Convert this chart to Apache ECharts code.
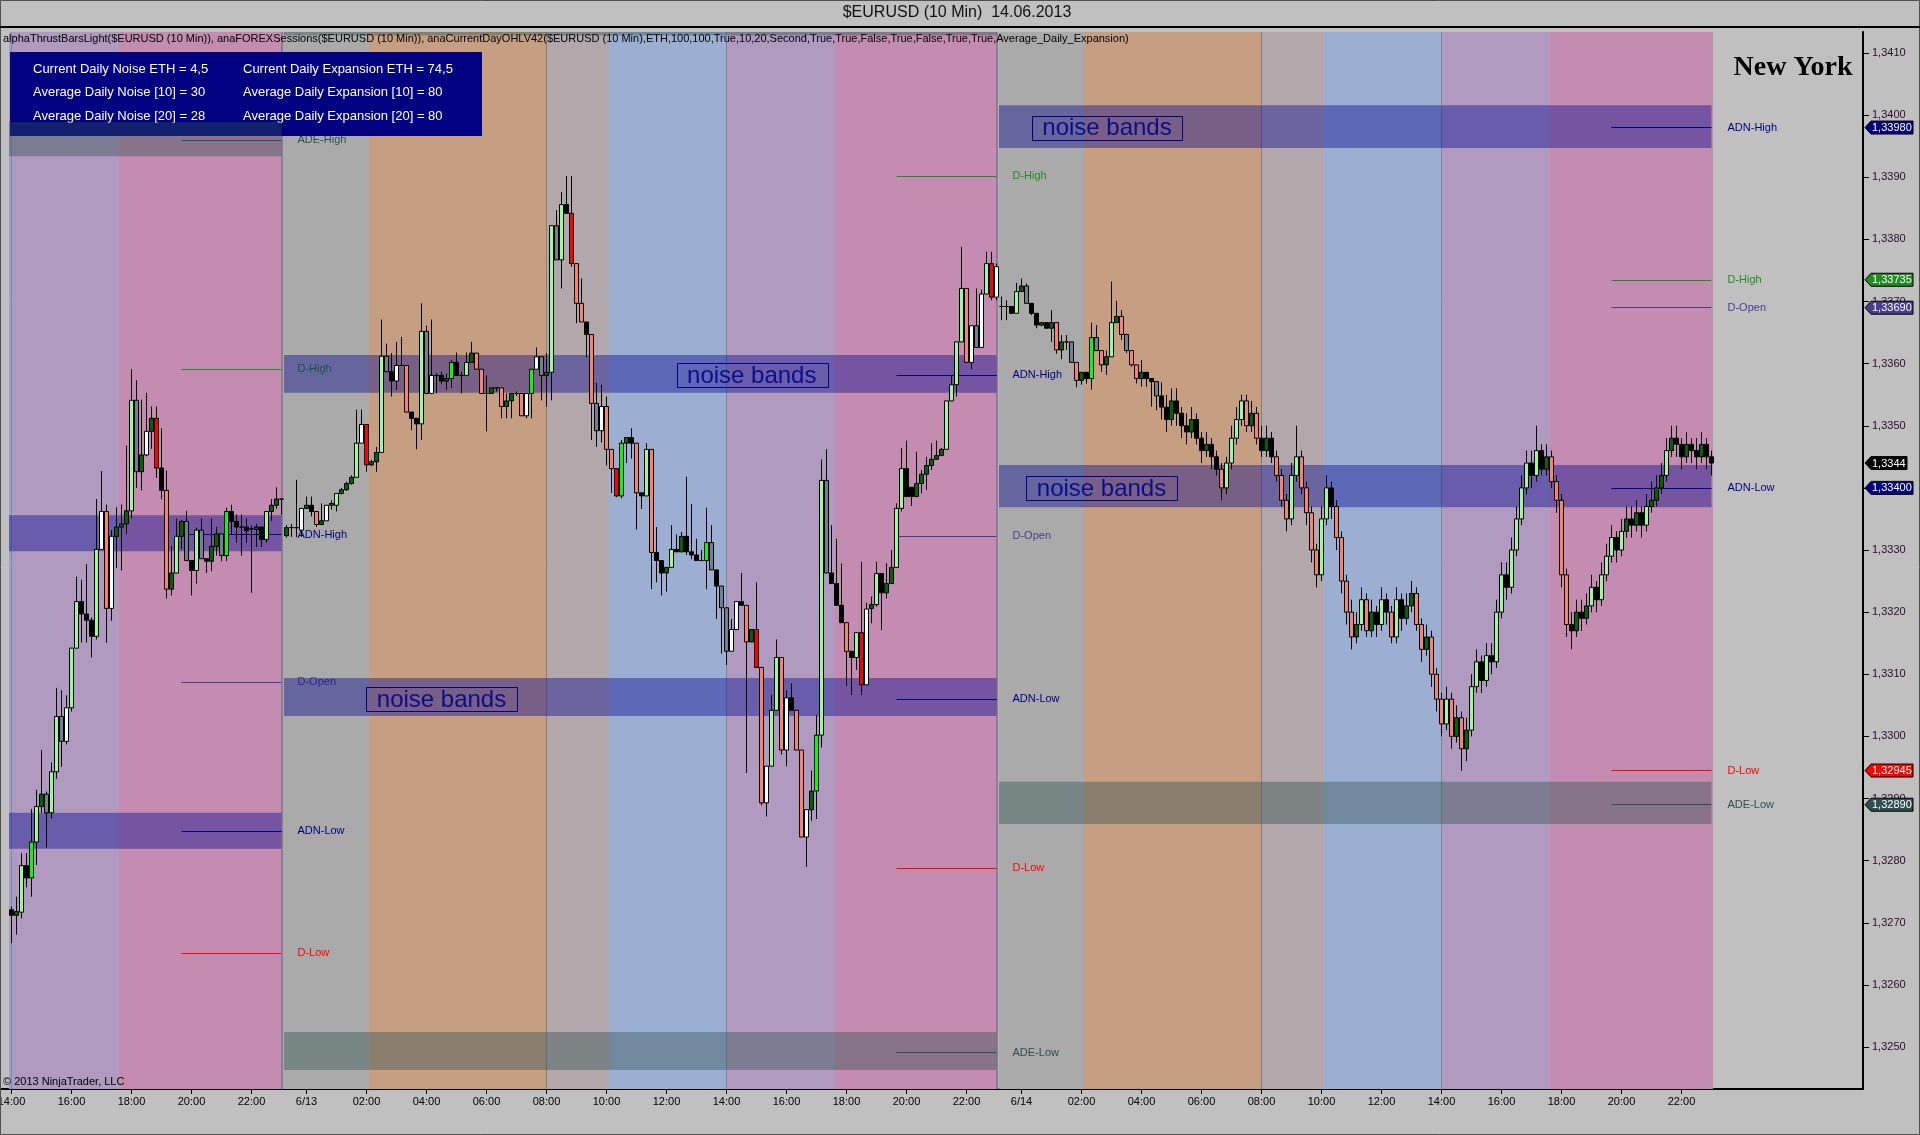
<!DOCTYPE html>
<html><head><meta charset="utf-8">
<script src="https://cdn.jsdelivr.net/npm/echarts@6/dist/echarts.min.js"></script>
<style>html,body{margin:0;padding:0;background:#C0C0C0;overflow:hidden}#c{width:1920px;height:1135px}</style>
</head><body><div id="c"></div>
<script>
// ---------- DATA ----------
// 10-minute bars, index 0 = 12.06 14:00. Row: [open, high, low, close, thrustClass]
const day1Bars = [
[1.32721,1.32726,1.32667,1.32712,'bk'],[1.32712,1.32742,1.32681,1.32718,'dg'],[1.32717,1.32812,1.32707,1.32792,'pg'],[1.32792,1.32812,1.32757,1.32772,'bk'],
[1.32772,1.32883,1.32742,1.32830,'lm'],[1.32830,1.32914,1.32793,1.32887,'pg'],[1.32887,1.32978,1.32877,1.32907,'dg'],[1.32907,1.32911,1.32821,1.32877,'sl'],
[1.32877,1.32958,1.32868,1.32943,'pg'],[1.32943,1.33078,1.32932,1.33032,'pg'],[1.33032,1.33074,1.32951,1.32992,'sl'],[1.32992,1.33066,1.32987,1.33046,'az'],
[1.33046,1.33142,1.33040,1.33142,'pg'],[1.33142,1.33257,1.33142,1.33217,'pg'],[1.33217,1.33252,1.33151,1.33197,'bk'],[1.33197,1.33277,1.33151,1.33187,'bk'],
[1.33187,1.33191,1.33127,1.33161,'bk'],[1.33161,1.33382,1.33156,1.33301,'pg'],[1.33301,1.33427,1.33301,1.33362,'az'],[1.33362,1.33373,1.33151,1.33206,'sa'],
[1.33206,1.33332,1.33186,1.33322,'az'],[1.33322,1.33369,1.33271,1.33337,'dg'],[1.33337,1.33373,1.33267,1.33342,'dg'],[1.33342,1.33468,1.33326,1.33363,'dg'],
[1.33363,1.33591,1.33351,1.33541,'pg'],[1.33541,1.33573,1.33400,1.33426,'sl'],[1.33426,1.33542,1.33396,1.33453,'dg'],[1.33453,1.33553,1.33451,1.33491,'az'],
[1.33491,1.33531,1.33463,1.33512,'dg'],[1.33512,1.33531,1.33416,1.33432,'rd'],[1.33432,1.33496,1.33382,1.33396,'bk'],[1.33396,1.33428,1.33222,1.33237,'sa'],
[1.33237,1.33306,1.33227,1.33263,'dg'],[1.33263,1.33351,1.33263,1.33322,'pg'],[1.33322,1.33348,1.33302,1.33346,'dg'],[1.33346,1.33363,1.33283,1.33283,'sl'],
[1.33283,1.33283,1.33227,1.33267,'bk'],[1.33267,1.33336,1.33246,1.33332,'pg'],[1.33332,1.33351,1.33286,1.33286,'sl'],[1.33286,1.33286,1.33263,1.33282,'bk'],
[1.33282,1.33351,1.33266,1.33306,'dg'],[1.33306,1.33337,1.33291,1.33326,'dg'],[1.33326,1.33326,1.33282,1.33291,'sl'],[1.33291,1.33368,1.33282,1.33362,'lm'],
[1.33362,1.33373,1.33326,1.33346,'bk'],[1.33346,1.33357,1.33312,1.33337,'bk'],[1.33337,1.33357,1.33291,1.33337,'bk'],[1.33337,1.33351,1.33312,1.33331,'bk'],
[1.33334,1.33339,1.33231,1.33334,'bk'],[1.33333,1.33342,1.33305,1.33337,'dg'],[1.33337,1.33337,1.33305,1.33317,'bk'],[1.33317,1.33362,1.33312,1.33362,'pg'],
[1.33362,1.33382,1.33347,1.33372,'dg'],[1.33372,1.33401,1.33366,1.33382,'dg'],[1.33382,1.33382,1.33357,1.33382,'bk']
];
const day2Bars = [
[1.33323,1.33340,1.33320,1.33336,'dg'],[1.33336,1.33342,1.33321,1.33336,'bk'],[1.33336,1.33413,1.33321,1.33336,'bk'],[1.33332,1.33367,1.33321,1.33367,'az'],
[1.33367,1.33386,1.33367,1.33372,'dg'],[1.33372,1.33386,1.33354,1.33362,'bk'],[1.33362,1.33362,1.33337,1.33341,'sa'],[1.33341,1.33375,1.33340,1.33347,'dg'],
[1.33347,1.33372,1.33347,1.33372,'az'],[1.33372,1.33380,1.33365,1.33375,'dg'],[1.33372,1.33391,1.33362,1.33391,'pg'],[1.33391,1.33400,1.33389,1.33397,'dg'],
[1.33397,1.33410,1.33395,1.33407,'dg'],[1.33407,1.33420,1.33405,1.33417,'dg'],[1.33417,1.33526,1.33417,1.33472,'pg'],[1.33472,1.33526,1.33472,1.33502,'az'],
[1.33502,1.33502,1.33426,1.33437,'rd'],[1.33437,1.33445,1.33435,1.33442,'dg'],[1.33442,1.33466,1.33426,1.33457,'dg'],[1.33457,1.33671,1.33457,1.33612,'pg'],
[1.33612,1.33632,1.33587,1.33587,'sl'],[1.33587,1.33617,1.33547,1.33572,'bk'],[1.33572,1.33635,1.33558,1.33597,'az'],[1.33597,1.33643,1.33597,1.33597,'bk'],
[1.33597,1.33597,1.33522,1.33522,'sa'],[1.33522,1.33522,1.33493,1.33512,'bk'],[1.33512,1.33512,1.33462,1.33503,'bk'],[1.33503,1.33697,1.33477,1.33652,'pg'],
[1.33652,1.33661,1.33552,1.33552,'sl'],[1.33552,1.33671,1.33552,1.33581,'az'],[1.33581,1.33585,1.33552,1.33581,'bk'],[1.33581,1.33587,1.33567,1.33572,'bk'],
[1.33572,1.33584,1.33558,1.33576,'dg'],[1.33576,1.33606,1.33561,1.33602,'lm'],[1.33602,1.33618,1.33581,1.33581,'bk'],[1.33581,1.33587,1.33552,1.33581,'bk'],
[1.33581,1.33618,1.33581,1.33602,'pg'],[1.33602,1.33635,1.33602,1.33617,'dg'],[1.33617,1.33617,1.33591,1.33591,'sa'],[1.33591,1.33591,1.33552,1.33552,'sa'],
[1.33552,1.33581,1.33491,1.33552,'bk'],[1.33552,1.33561,1.33552,1.33561,'dg'],[1.33561,1.33561,1.33555,1.33561,'bk'],[1.33561,1.33561,1.33512,1.33531,'sa'],
[1.33531,1.33552,1.33512,1.33540,'dg'],[1.33540,1.33552,1.33512,1.33552,'dg'],[1.33552,1.33555,1.33548,1.33552,'bk'],[1.33552,1.33552,1.33516,1.33516,'sa'],
[1.33516,1.33552,1.33512,1.33552,'az'],[1.33552,1.33591,1.33512,1.33591,'lm'],[1.33591,1.33626,1.33591,1.33611,'az'],[1.33611,1.33611,1.33541,1.33581,'sl'],
[1.33581,1.33617,1.33531,1.33586,'dg'],[1.33586,1.33822,1.33541,1.33822,'pg'],[1.33822,1.33847,1.33767,1.33767,'sl'],[1.33767,1.33876,1.33721,1.33856,'pg'],
[1.33856,1.33902,1.33842,1.33842,'bk'],[1.33842,1.33902,1.33756,1.33761,'rd'],[1.33761,1.33761,1.33665,1.33697,'sa'],[1.33697,1.33737,1.33667,1.33667,'sa'],
[1.33667,1.33667,1.33610,1.33647,'bk'],[1.33647,1.33647,1.33477,1.33536,'sa'],[1.33536,1.33569,1.33466,1.33492,'sl'],[1.33492,1.33566,1.33473,1.33531,'az'],
[1.33531,1.33547,1.33436,1.33462,'sa'],[1.33462,1.33462,1.33392,1.33431,'sa'],[1.33431,1.33431,1.33385,1.33387,'rd'],[1.33387,1.33477,1.33383,1.33472,'lm'],
[1.33472,1.33481,1.33440,1.33481,'dg'],[1.33481,1.33496,1.33447,1.33472,'bk'],[1.33472,1.33472,1.33333,1.33392,'sa'],[1.33392,1.33392,1.33366,1.33387,'bk'],
[1.33387,1.33472,1.33387,1.33462,'pg'],[1.33462,1.33462,1.33237,1.33296,'sa'],[1.33296,1.33337,1.33248,1.33283,'bk'],[1.33283,1.33283,1.33227,1.33263,'bk'],
[1.33263,1.33272,1.33233,1.33272,'dg'],[1.33272,1.33340,1.33272,1.33301,'pg'],[1.33301,1.33325,1.33297,1.33297,'bk'],[1.33297,1.33329,1.33297,1.33322,'dg'],
[1.33322,1.33418,1.33292,1.33297,'bk'],[1.33297,1.33374,1.33285,1.33292,'bk'],[1.33292,1.33318,1.33283,1.33283,'bk'],[1.33283,1.33300,1.33283,1.33283,'bk'],
[1.33283,1.33368,1.33237,1.33312,'lm'],[1.33312,1.33340,1.33268,1.33268,'sl'],[1.33268,1.33268,1.33189,1.33242,'bk'],[1.33242,1.33242,1.33133,1.33207,'sl'],
[1.33207,1.33207,1.33115,1.33137,'sl'],[1.33137,1.33189,1.33137,1.33172,'az'],[1.33172,1.33217,1.33172,1.33217,'az'],[1.33217,1.33263,1.33211,1.33211,'bk'],
[1.33211,1.33211,1.32941,1.33152,'sa'],[1.33152,1.33172,1.33152,1.33172,'dg'],[1.33172,1.33248,1.33111,1.33111,'rd'],[1.33111,1.33111,1.32889,1.32893,'sa'],
[1.32893,1.32952,1.32871,1.32952,'az'],[1.32952,1.33067,1.32952,1.33042,'pg'],[1.33042,1.33156,1.33042,1.33127,'pg'],[1.33127,1.33127,1.32971,1.32978,'sa'],
[1.32978,1.33074,1.32952,1.33062,'az'],[1.33062,1.33085,1.33042,1.33042,'bk'],[1.33042,1.33042,1.32978,1.32978,'sa'],[1.32978,1.32978,1.32838,1.32838,'sa'],
[1.32838,1.32882,1.32790,1.32882,'az'],[1.32882,1.32945,1.32864,1.32912,'dg'],[1.32912,1.33034,1.32867,1.33002,'lm'],[1.33002,1.33446,1.32982,1.33412,'pg'],
[1.33412,1.33462,1.33263,1.33263,'sl'],[1.33263,1.33340,1.33246,1.33246,'bk'],[1.33246,1.33318,1.33211,1.33211,'bk'],[1.33211,1.33278,1.33183,1.33183,'bk'],
[1.33183,1.33183,1.33081,1.33137,'sa'],[1.33137,1.33137,1.33067,1.33127,'bk'],[1.33127,1.33167,1.33107,1.33167,'pg'],[1.33167,1.33281,1.33067,1.33083,'rd'],
[1.33083,1.33215,1.33083,1.33205,'az'],[1.33206,1.33225,1.33182,1.33212,'dg'],[1.33212,1.33281,1.33209,1.33262,'pg'],[1.33262,1.33262,1.33171,1.33231,'bk'],
[1.33231,1.33279,1.33222,1.33246,'dg'],[1.33246,1.33300,1.33246,1.33272,'dg'],[1.33272,1.33375,1.33272,1.33367,'pg'],[1.33367,1.33464,1.33362,1.33431,'pg'],
[1.33431,1.33476,1.33386,1.33386,'bk'],[1.33401,1.33401,1.33371,1.33386,'bk'],[1.33386,1.33458,1.33386,1.33407,'dg'],[1.33407,1.33429,1.33391,1.33422,'dg'],
[1.33422,1.33450,1.33397,1.33436,'dg'],[1.33436,1.33472,1.33429,1.33446,'dg'],[1.33446,1.33476,1.33445,1.33452,'dg'],[1.33452,1.33464,1.33452,1.33462,'dg'],
[1.33462,1.33540,1.33462,1.33540,'pg'],[1.33540,1.33581,1.33540,1.33566,'pg'],[1.33566,1.33635,1.33547,1.33635,'pg'],[1.33635,1.33788,1.33635,1.33721,'pg'],
[1.33721,1.33721,1.33602,1.33602,'sa'],[1.33602,1.33661,1.33591,1.33661,'az'],[1.33661,1.33721,1.33626,1.33626,'sl'],[1.33626,1.33719,1.33626,1.33712,'az'],
[1.33712,1.33780,1.33712,1.33761,'pg'],[1.33761,1.33780,1.33702,1.33707,'rd'],[1.33707,1.33761,1.33702,1.33756,'az']
];
const day3Bars = [
[1.33692,1.33708,1.33670,1.33692,'bk'],[1.33692,1.33702,1.33670,1.33692,'bk'],[1.33692,1.33692,1.33681,1.33681,'bk'],[1.33681,1.33730,1.33681,1.33716,'pg'],
[1.33716,1.33737,1.33716,1.33725,'dg'],[1.33725,1.33729,1.33697,1.33697,'sl'],[1.33697,1.33697,1.33678,1.33681,'bk'],[1.33681,1.33681,1.33657,1.33662,'bk'],
[1.33662,1.33666,1.33660,1.33666,'dg'],[1.33666,1.33666,1.33657,1.33657,'bk'],[1.33657,1.33686,1.33635,1.33666,'dg'],[1.33666,1.33666,1.33616,1.33622,'sa'],
[1.33622,1.33646,1.33607,1.33635,'dg'],[1.33635,1.33646,1.33622,1.33635,'bk'],[1.33635,1.33635,1.33601,1.33602,'sl'],[1.33602,1.33602,1.33562,1.33573,'sa'],
[1.33573,1.33586,1.33566,1.33586,'dg'],[1.33586,1.33586,1.33568,1.33576,'bk'],[1.33576,1.33666,1.33558,1.33642,'lm'],[1.33642,1.33662,1.33621,1.33621,'sl'],
[1.33621,1.33621,1.33587,1.33598,'sa'],[1.33598,1.33621,1.33582,1.33611,'dg'],[1.33611,1.33732,1.33611,1.33666,'pg'],[1.33666,1.33701,1.33666,1.33676,'dg'],
[1.33676,1.33686,1.33638,1.33647,'sa'],[1.33647,1.33647,1.33617,1.33621,'sl'],[1.33621,1.33621,1.33595,1.33598,'sa'],[1.33598,1.33598,1.33568,1.33576,'sa'],
[1.33576,1.33606,1.33563,1.33586,'dg'],[1.33586,1.33586,1.33563,1.33576,'bk'],[1.33576,1.33576,1.33531,1.33571,'bk'],[1.33571,1.33571,1.33525,1.33548,'sl'],
[1.33548,1.3357,1.3351,1.3353,'bk'],[1.3353,1.3355,1.3349,1.3351,'bk'],[1.3351,1.3356,1.3350,1.3354,'dg'],[1.3354,1.3356,1.3350,1.3352,'bk'],
[1.3352,1.3353,1.3348,1.3350,'bk'],[1.3350,1.3352,1.3347,1.3349,'bk'],[1.3349,1.3353,1.3348,1.3351,'dg'],[1.3351,1.3352,1.3347,1.3348,'bk'],
[1.3348,1.3349,1.3344,1.3346,'bk'],[1.3346,1.3349,1.3345,1.3347,'dg'],[1.3347,1.3348,1.3343,1.3345,'bk'],[1.3345,1.3346,1.3342,1.3343,'bk'],
[1.3343,1.3344,1.3338,1.3340,'sa'],[1.3340,1.3345,1.3339,1.3344,'pg'],[1.3344,1.3350,1.3343,1.3348,'pg'],[1.3348,1.3353,1.3347,1.3351,'pg'],
[1.3351,1.3355,1.3350,1.3354,'pg'],[1.3354,1.3355,1.3349,1.3350,'sa'],[1.3350,1.3354,1.3349,1.3352,'dg'],[1.3352,1.3353,1.3347,1.3348,'sa'],
[1.3348,1.3350,1.3345,1.3346,'bk'],[1.3346,1.3350,1.3345,1.3348,'dg'],[1.3348,1.3349,1.3344,1.3345,'bk'],[1.3345,1.3346,1.3341,1.3342,'sa'],
[1.3342,1.3343,1.3337,1.3338,'sa'],[1.3338,1.3339,1.3333,1.3335,'sa'],[1.3335,1.3344,1.3334,1.3342,'pg'],[1.3342,1.3350,1.3341,1.3345,'pg'],
[1.3345,1.3346,1.3339,1.3340,'sa'],[1.3340,1.3341,1.3334,1.3336,'sa'],[1.3336,1.3337,1.3328,1.3330,'sa'],[1.3330,1.3331,1.3324,1.3326,'sa'],
[1.3326,1.3337,1.3325,1.3335,'pg'],[1.3335,1.3342,1.3334,1.3340,'pg'],[1.3340,1.3341,1.3335,1.3337,'bk'],[1.3337,1.3338,1.3330,1.3332,'sa'],
[1.3332,1.3333,1.3323,1.3325,'sa'],[1.3325,1.3326,1.3318,1.3320,'sa'],[1.3320,1.3322,1.3314,1.3316,'sa'],[1.3316,1.3320,1.3315,1.3318,'dg'],
[1.3318,1.3324,1.3317,1.3322,'pg'],[1.3322,1.3323,1.3316,1.3317,'sa'],[1.3317,1.3322,1.3316,1.3320,'dg'],[1.3320,1.3321,1.3316,1.3318,'bk'],
[1.3318,1.3324,1.3317,1.3322,'pg'],[1.3322,1.3323,1.3318,1.3320,'bk'],[1.3320,1.3321,1.3315,1.3316,'sa'],[1.3316,1.3324,1.3315,1.3322,'pg'],
[1.3322,1.3323,1.3317,1.3319,'bk'],[1.3319,1.3323,1.3318,1.3321,'dg'],[1.3321,1.3325,1.3320,1.3323,'dg'],[1.3323,1.3324,1.3317,1.3318,'sa'],
[1.3318,1.3319,1.3312,1.3314,'sa'],[1.3314,1.3318,1.3313,1.3316,'dg'],[1.3316,1.3317,1.3308,1.3310,'sa'],[1.3310,1.3311,1.3304,1.3306,'sa'],
[1.3306,1.3307,1.3300,1.3302,'sa'],[1.3302,1.3308,1.3301,1.3306,'pg'],[1.3306,1.3307,1.3298,1.3300,'sa'],[1.3300,1.3305,1.3299,1.3303,'dg'],
[1.3303,1.3304,1.32945,1.3298,'sa'],[1.3298,1.3303,1.3296,1.3301,'dg'],[1.3301,1.3310,1.3300,1.3308,'pg'],[1.3308,1.3314,1.3307,1.3312,'pg'],
[1.3312,1.3313,1.3307,1.3309,'bk'],[1.3309,1.3315,1.3308,1.3313,'pg'],[1.3313,1.3315,1.3310,1.3312,'bk'],[1.3312,1.3322,1.3311,1.3320,'pg'],
[1.3320,1.3328,1.3319,1.3326,'pg'],[1.3326,1.3328,1.3322,1.3324,'bk'],[1.3324,1.3332,1.3323,1.3330,'pg'],[1.3330,1.3337,1.3329,1.3335,'pg'],
[1.3335,1.3342,1.3334,1.3340,'pg'],[1.3340,1.3346,1.3339,1.3344,'pg'],[1.3344,1.3346,1.3340,1.3342,'bk'],[1.3342,1.3350,1.3341,1.3346,'pg'],
[1.3346,1.3347,1.3342,1.3343,'bk'],[1.3343,1.3347,1.3342,1.3345,'dg'],[1.3345,1.3346,1.3340,1.3341,'sa'],[1.3341,1.3342,1.3336,1.3338,'sa'],
[1.3338,1.3339,1.3324,1.3326,'sa'],[1.3326,1.3327,1.3316,1.3318,'sa'],[1.3318,1.3320,1.3314,1.3317,'bk'],[1.3317,1.3322,1.3316,1.3320,'dg'],
[1.3320,1.3322,1.3317,1.3319,'bk'],[1.3319,1.3323,1.3318,1.3321,'dg'],[1.3321,1.3326,1.3320,1.3324,'pg'],[1.3324,1.3325,1.3320,1.3322,'bk'],
[1.3322,1.3328,1.3321,1.3326,'pg'],[1.3326,1.3331,1.3325,1.3329,'pg'],[1.3329,1.3334,1.3328,1.3332,'pg'],[1.3332,1.3333,1.3328,1.3330,'bk'],
[1.3330,1.3335,1.3329,1.3333,'pg'],[1.3333,1.3337,1.3332,1.3335,'dg'],[1.3335,1.3337,1.3332,1.3334,'bk'],[1.3334,1.3338,1.3333,1.3336,'dg'],
[1.3336,1.3337,1.3332,1.3334,'bk'],[1.3334,1.3339,1.3333,1.3337,'pg'],[1.3337,1.3341,1.3336,1.3338,'dg'],[1.3338,1.3342,1.3337,1.3340,'dg'],
[1.3340,1.3344,1.3339,1.3342,'dg'],[1.3342,1.3348,1.3341,1.3346,'pg'],[1.3346,1.3350,1.3345,1.3348,'dg'],[1.3348,1.3350,1.3345,1.3347,'bk'],
[1.3347,1.3348,1.3343,1.3345,'bk'],[1.3345,1.3349,1.3344,1.3347,'dg'],[1.3347,1.3348,1.3344,1.3346,'bk'],[1.3346,1.3348,1.3343,1.3345,'bk'],
[1.3345,1.3349,1.3344,1.3347,'dg'],[1.3347,1.3348,1.3343,1.3345,'bk'],[1.3345,1.3346,1.3342,1.3344,'bk']
];

const tickBars   = [0,12,24,36,48,59,71,83,95,107,119,131,143,155,167,179,191,202,214,226,238,250,262,274,286,298,310,322,334];
const tickLabels = ['14:00','16:00','18:00','20:00','22:00','6/13','02:00','04:00','06:00','08:00','10:00','12:00','14:00','16:00','18:00','20:00','22:00','6/14','02:00','04:00','06:00','08:00','10:00','12:00','14:00','16:00','18:00','20:00','22:00'];
const priceTicks = [1.3250,1.3260,1.3270,1.3280,1.3290,1.3300,1.3310,1.3320,1.3330,1.3340,1.3350,1.3360,1.3370,1.3380,1.3390,1.3400,1.3410];

// session shading: [fromBar, toBar, session]
const sessionSpans = [
  [-0.5,21.5,'lav'],[21.5,54,'pink'],
  [54.2,71.5,'grey'],[71.5,107,'orange'],[107,119.5,'mauve'],[119.5,143,'blue'],[143,164.7,'lav'],[164.7,197,'pink'],
  [197.4,214.5,'grey'],[214.5,250,'orange'],[250,262.5,'mauve'],[262.5,286,'blue'],[286,307.7,'lav'],[307.7,340.3,'pink']
];
const sessionDividers = [[-0.1,'start'],[54,'day'],[107,'open'],[143,'ny'],[197,'day'],[250,'open'],[286,'ny']];

// daily levels: [fromBar, toBar, name, price]
const levelRows = [
  [34,54,'ADE-High',1.33960],[34,54,'D-High',1.33591],[34,54,'ADN-High',1.33325],[34,54,'D-Open',1.33087],[34,54,'ADN-Low',1.32847],[34,54,'D-Low',1.32651],
  [177,197,'D-High',1.33902],[177,197,'ADN-High',1.33581],[177,197,'D-Open',1.33322],[177,197,'ADN-Low',1.33060],[177,197,'D-Low',1.32788],[177,197,'ADE-Low',1.32491],
  [320,340,'ADN-High',1.33980],[320,340,'D-High',1.33735],[320,340,'D-Open',1.33690],[320,340,'ADN-Low',1.33400],[320,340,'D-Low',1.32945],[320,340,'ADE-Low',1.32890]
];
// bands: [fromBar, toBar, low, high, kind]
const bandRows = [
  [-0.5,54,1.33298,1.33356,'noise'],[-0.5,54,1.32819,1.32877,'noise'],[-0.5,54,1.33934,1.33989,'exp'],
  [54.5,197,1.33553,1.33614,'noise'],[54.5,197,1.33033,1.33094,'noise'],[54.5,197,1.32463,1.32524,'exp'],[54.5,197,1.34128,1.34134,'exp'],
  [197.5,340,1.33947,1.34016,'noise'],[197.5,340,1.33369,1.33437,'noise'],[197.5,340,1.32859,1.32927,'exp']
];
// "noise bands" captions: [fromBar, toBar, price]
const noiseCaptions = [[133,163.1,1.33581],[70.9,101.1,1.33060],[204.1,234.1,1.33980],[202.9,233.1,1.33400]];
// right-axis price markers: [price, text, kind]
const priceMarkers = [
  [1.33980,'1,33980','ADN'],[1.33735,'1,33735','D-High'],[1.33690,'1,33690','D-Open'],[1.3344,'1,3344','last'],
  [1.33400,'1,33400','ADN'],[1.32945,'1,32945','D-Low'],[1.32890,'1,32890','ADE']
];
const infoLeft  = ['Current Daily Noise ETH = 4,5','Average Daily Noise [10] = 30','Average Daily Noise [20] = 28'];
const infoRight = ['Current Daily Expansion ETH = 74,5','Average Daily Expansion [10] = 80','Average Daily Expansion [20] = 80'];

// ---------- STYLES ----------
const FONT = '"Liberation Sans", Arial, sans-serif';
const thrustFill = {pg:'#98FB98', lm:'#00FF00', dg:'#006400', az:'#F0FFFF', sl:'#708090', bk:'#000000', sa:'#FA8072', rd:'#FF0000'};
const sessionFill = {lav:'#B09ABF', pink:'#C48CB0', grey:'#AAAAAA', orange:'#C69F82', mauve:'#B2A7AB', blue:'#9CAFD3'};
const dividerColor = {start:'#6E8EC0', day:'#8E7C94', open:'#8C7E72', ny:'#7C8798'};
const levelColor = {'D-High':'#228B22','D-Low':'#FF0000','D-Open':'#483D8B','ADN-High':'#000080','ADN-Low':'#000080','ADE-High':'#2F4F4F','ADE-Low':'#2F4F4F'};
const bandFill = {noise:'rgba(0,0,140,0.40)', exp:'rgba(47,79,79,0.40)'};
const markerFill = {'ADN':'#000080','D-High':'#228B22','D-Open':'#483D8B','last':'#000000','D-Low':'#FF0000','ADE':'#2F4F4F'};

const bars = day1Bars.concat(day2Bars, day3Bars);
const candleData = bars.map((b, i) => {
  const c = thrustFill[b[4]];
  return {value: [i, b[0], b[3], b[2], b[1]],
    itemStyle: {color: c, color0: c, borderColor: '#000', borderColor0: '#000', borderColorDoji: '#000', borderWidth: 1}};
});
const tickLabelOf = {};
tickBars.forEach((b, k) => { tickLabelOf[b] = tickLabels[k]; });

const chart = echarts.init(document.getElementById('c'), null, {renderer: 'canvas', width: 1920, height: 1135});

const option = {
  animation: false,
  backgroundColor: '#C0C0C0',
  textStyle: {fontFamily: FONT},
  grid: {left: 0, right: 57, top: 32, bottom: 46, containLabel: false, outerBoundsMode: 'none'},
  xAxis: {
    type: 'value', min: -2.3, max: 370.3,
    axisLine: {show: true, onZero: false, lineStyle: {color: '#000', width: 2}},
    axisTick: {show: true, customValues: tickBars, length: 5, lineStyle: {color: '#000'}},
    axisLabel: {show: true, customValues: tickBars, formatter: v => tickLabelOf[Math.round(v)] || '', color: '#000', fontSize: 11, margin: 7, fontFamily: FONT},
    splitLine: {show: false}
  },
  yAxis: {
    type: 'value', position: 'right', min: 1.324324, max: 1.341338, scale: true,
    axisLine: {show: true, onZero: false, lineStyle: {color: '#000', width: 2}},
    axisTick: {show: true, customValues: priceTicks, length: 6, inside: false, lineStyle: {color: '#000'}},
    axisLabel: {show: true, customValues: priceTicks, formatter: v => v.toFixed(4).replace('.', ','), color: '#2A0A2A', fontSize: 11, margin: 9, fontFamily: FONT},
    splitLine: {show: false}
  },
  series: [
    {
      type: 'line', data: [], z: 1, silent: true,
      markArea: {z: 1, silent: true, data: sessionSpans.map(s => [{xAxis: s[0], itemStyle: {color: sessionFill[s[2]]}}, {xAxis: s[1]}])},
      markLine: {z: 1.2, silent: true, symbol: ['none', 'none'], label: {show: false},
        data: sessionDividers.map(d => ({xAxis: d[0], lineStyle: {color: dividerColor[d[1]], width: d[1] === 'day' ? 2 : 1, type: 'solid'}}))}
    },
    {
      type: 'line', data: [], z: 2, silent: true,
      markLine: {z: 2, silent: true, symbol: ['none', 'none'],
        data: levelRows.map(l => [
          {coord: [l[0], l[3]], lineStyle: {color: levelColor[l[2]], width: 1, type: 'solid'},
           label: {show: true, position: 'end', distance: 16, formatter: l[2], color: levelColor[l[2]], fontSize: 11, fontFamily: FONT}},
          {coord: [l[1], l[3]]}
        ])}
    },
    {
      type: 'line', data: [], z: 3, silent: true,
      markArea: {z: 3, silent: true, data: bandRows.map(b => [{xAxis: b[0], yAxis: b[2], itemStyle: {color: bandFill[b[4]]}}, {xAxis: b[1], yAxis: b[3]}])}
    },
    {
      type: 'candlestick', z: 5, barWidth: 4, data: candleData
    }
  ]
};
chart.setOption(option);

// ---------- overlay texts & markers ----------
const g = [];
g.push({type: 'rect', z: 50, shape: {x: 0.5, y: 0.5, width: 1919, height: 1134}, style: {fill: null, stroke: '#505050', lineWidth: 1}});
g.push({type: 'line', z: 50, shape: {x1: 0, y1: 27, x2: 1920, y2: 27}, style: {stroke: '#000', lineWidth: 2}});
g.push({type: 'text', z: 50, x: 957, y: 13, style: {text: '$EURUSD (10 Min)  14.06.2013', font: '16px ' + FONT, fill: '#111', align: 'center', verticalAlign: 'middle'}});
g.push({type: 'text', z: 20, x: 3, y: 39, style: {text: 'alphaThrustBarsLight($EURUSD (10 Min)), anaFOREXSessions($EURUSD (10 Min)), anaCurrentDayOHLV42($EURUSD (10 Min),ETH,100,100,True,10,20,Second,True,True,False,True,False,True,True,Average_Daily_Expansion)', font: '11px ' + FONT, fill: '#000', align: 'left', verticalAlign: 'middle'}});
g.push({type: 'rect', z: 2.5, shape: {x: 10, y: 52, width: 472, height: 84}, style: {fill: '#000080'}});
[69, 92, 116].forEach((y, k) => {
  g.push({type: 'text', z: 2.6, x: 33, y: y, style: {text: infoLeft[k], font: '13px ' + FONT, fill: '#fff', verticalAlign: 'middle'}});
  g.push({type: 'text', z: 2.6, x: 243, y: y, style: {text: infoRight[k], font: '13px ' + FONT, fill: '#fff', verticalAlign: 'middle'}});
});
g.push({type: 'text', z: 20, x: 1793, y: 68, style: {text: 'New York', font: 'bold 28px "Liberation Serif", "Times New Roman", serif', fill: '#000', align: 'center', verticalAlign: 'middle'}});
g.push({type: 'text', z: 20, x: 3, y: 1082, style: {text: '\u00A9 2013 NinjaTrader, LLC', font: '11px ' + FONT, fill: '#000', verticalAlign: 'middle'}});

noiseCaptions.forEach(n => {
  const p1 = chart.convertToPixel({gridIndex: 0}, [n[0], n[2]]);
  const p2 = chart.convertToPixel({gridIndex: 0}, [n[1], n[2]]);
  const w = p2[0] - p1[0];
  g.push({type: 'rect', z: 30, shape: {x: Math.round(p1[0]) + 0.5, y: Math.round(p1[1] - 12) + 0.5, width: Math.round(w), height: 24}, style: {fill: null, stroke: '#000080', lineWidth: 1}});
  g.push({type: 'text', z: 31, x: p1[0] + w / 2, y: p1[1] + 1, style: {text: 'noise bands', font: '24px "Liberation Sans Narrow", "Arial Narrow", ' + FONT, fill: '#0C0C8C', align: 'center', verticalAlign: 'middle'}});
});

priceMarkers.forEach(m => {
  const py = chart.convertToPixel({gridIndex: 0}, [0, m[0]])[1];
  const x0 = 1865, x1 = m[2] === 'last' ? 1907 : 1913, h = 6.5;
  g.push({type: 'polygon', z: 40, shape: {points: [[x0, py], [x0 + 6, py - h], [x1, py - h], [x1, py + h], [x0 + 6, py + h]]},
    style: {fill: markerFill[m[2]], stroke: '#000', lineWidth: 1}});
  g.push({type: 'text', z: 41, x: 1872, y: py + 0.5, style: {text: m[1], font: '11px ' + FONT, fill: '#fff', verticalAlign: 'middle'}});
});

chart.setOption({graphic: g});
</script>
</body></html>
